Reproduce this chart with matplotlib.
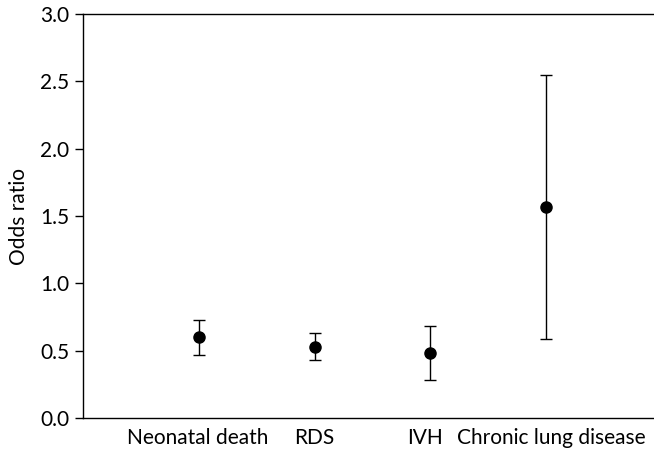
import matplotlib.pyplot as plt
import matplotlib.transforms as mtransforms

plt.rcParams['font.family'] = ['Lato', 'DejaVu Sans']

labels = ['Neonatal death', 'RDS', 'IVH', 'Chronic lung disease']
odds = [0.60, 0.53, 0.48, 1.57]
lower = [0.47, 0.43, 0.28, 0.59]
upper = [0.73, 0.63, 0.68, 2.55]

pos = [1, 2, 3, 4]
err_lo = [o - l for o, l in zip(odds, lower)]
err_hi = [u - o for o, u in zip(odds, upper)]

fig = plt.figure(figsize=(6.54, 4.51), dpi=100)
ax = fig.add_axes([83 / 654, 1 - 418 / 451, (654 - 83) / 654, (418 - 14) / 451])

ax.errorbar(pos, odds, yerr=[err_lo, err_hi], fmt='o', color='black',
            markersize=8, capsize=4.5, elinewidth=1, capthick=1)

ax.set_xlim(0, 4.93)
ax.set_ylim(0, 3.0)
ax.set_yticks([0, 0.5, 1.0, 1.5, 2.0, 2.5, 3.0])
ax.set_yticklabels(['0.0', '0.5', '1.0', '1.5', '2.0', '2.5', '3.0'])
ax.set_xticks(pos)
ax.set_xticklabels(labels)
ax.tick_params(axis='x', length=0, pad=7, labelsize=15)
ax.tick_params(axis='y', direction='out', length=6, width=1, labelsize=15, pad=4)
ax.set_ylabel('Odds ratio', fontsize=15, labelpad=8)
ax.spines['right'].set_visible(False)
for s in ['left', 'top', 'bottom']:
    ax.spines[s].set_linewidth(1)

# nudge the last two labels apart a little, like in the original
shifts = [-1, 0, -5, 5]
for lab, dx in zip(ax.get_xticklabels(), shifts):
    off = mtransforms.ScaledTranslation(dx / 100, 0, fig.dpi_scale_trans)
    lab.set_transform(lab.get_transform() + off)

fig.savefig('out.png', dpi=100)
